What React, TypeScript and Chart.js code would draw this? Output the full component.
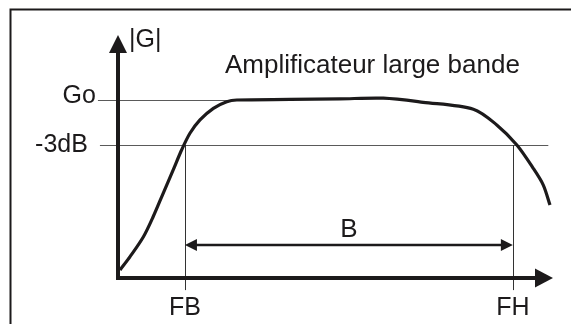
import React, { useEffect, useRef } from "react";
import { Chart, registerables } from "chart.js";

Chart.register(...registerables);

// Frequency (arbitrary units) and gain |G| (relative to Go = 1)
const curveX = [0.6, 3.6, 7.6, 10.5, 13.5, 16.5, 19.0, 21.5, 24.5, 28.5, 32.5, 35.5, 51.4, 66.3, 79.3, 91.2, 106.2, 113.2, 119.2, 124.1, 127.1, 129.1];
const curveY = [0.045, 0.12, 0.232, 0.344, 0.476, 0.607, 0.719, 0.813, 0.888, 0.953, 0.99, 1.0, 1.003, 1.006, 1.01, 0.987, 0.948, 0.86, 0.747, 0.616, 0.522, 0.41];

const X_MAX = 130;
const Y_MAX = 1.365;
const GO = 1;
const LEVEL_3DB = 0.747;
const FB = 20;
const FH = 118;
const BAND_Y = 0.185;
const GO_LINE = [-6, 35.5];
const DB_LINE = [-5.4, 128.6];
const V_LINE_BOTTOM = -0.068;

const TITLE = "Amplificateur large bande";
const Y_LABEL = "|G|";
const GO_LABEL = "Go";
const DB_LABEL = "-3dB";
const FB_LABEL = "FB";
const FH_LABEL = "FH";
const B_LABEL = "B";

const FONT = "Liberation Sans, Arial, sans-serif";
const INK = "#1c1a1b";
const GUIDE = "#5a5a5a";

const drawPlugin = {
  id: "diagram",
  beforeDatasetsDraw(chart: any) {
    const ctx = chart.ctx;
    const xs = chart.scales.x;
    const ys = chart.scales.y;
    const px = (v: number) => xs.getPixelForValue(v);
    const py = (v: number) => ys.getPixelForValue(v);
    ctx.save();
    // outer frame
    ctx.strokeStyle = INK;
    ctx.lineWidth = 2;
    ctx.beginPath();
    ctx.moveTo(10.5, 600);
    ctx.lineTo(10.5, 9.5);
    ctx.lineTo(800, 9.5);
    ctx.stroke();

    // guide lines
    ctx.strokeStyle = GUIDE;
    ctx.lineWidth = 1;
    ctx.beginPath();
    ctx.moveTo(px(GO_LINE[0]), Math.round(py(GO)) + 0.5);
    ctx.lineTo(px(GO_LINE[1]), Math.round(py(GO)) + 0.5);
    ctx.moveTo(px(DB_LINE[0]), Math.round(py(LEVEL_3DB)) + 0.5);
    ctx.lineTo(px(DB_LINE[1]), Math.round(py(LEVEL_3DB)) + 0.5);
    ctx.stroke();
    ctx.strokeStyle = "#333";
    ctx.beginPath();
    for (const f of [FB, FH]) {
      const x = Math.round(px(f)) + 0.5;
      ctx.moveTo(x, py(LEVEL_3DB));
      ctx.lineTo(x, py(V_LINE_BOTTOM));
    }
    ctx.stroke();

    // band double arrow
    const by = py(BAND_Y);
    const x1 = px(FB);
    const x2 = px(FH);
    ctx.strokeStyle = INK;
    ctx.fillStyle = INK;
    ctx.lineWidth = 2.5;
    ctx.beginPath();
    ctx.moveTo(x1 + 8, by);
    ctx.lineTo(x2 - 8, by);
    ctx.stroke();
    ctx.beginPath();
    ctx.moveTo(x1, by);
    ctx.lineTo(x1 + 12, by - 6);
    ctx.lineTo(x1 + 12, by + 6);
    ctx.closePath();
    ctx.fill();
    ctx.beginPath();
    ctx.moveTo(x2, by);
    ctx.lineTo(x2 - 12, by - 6);
    ctx.lineTo(x2 - 12, by + 6);
    ctx.closePath();
    ctx.fill();
    ctx.restore();
  },
  afterDatasetsDraw(chart: any) {
    const ctx = chart.ctx;
    const xs = chart.scales.x;
    const ys = chart.scales.y;
    const px = (v: number) => xs.getPixelForValue(v);
    const py = (v: number) => ys.getPixelForValue(v);
    const ox = px(0);
    const oy = py(0);
    const xEnd = px(X_MAX);
    const yEnd = py(Y_MAX);
    ctx.save();
    ctx.strokeStyle = INK;
    ctx.fillStyle = INK;
    ctx.lineWidth = 4;
    ctx.lineCap = "butt";
    // axes
    ctx.beginPath();
    ctx.moveTo(ox, oy + 2);
    ctx.lineTo(ox, yEnd + 16);
    ctx.moveTo(ox - 2, oy);
    ctx.lineTo(xEnd - 16, oy);
    ctx.stroke();
    // arrowheads
    ctx.beginPath();
    ctx.moveTo(ox, yEnd);
    ctx.lineTo(ox - 9, yEnd + 18);
    ctx.lineTo(ox + 9, yEnd + 18);
    ctx.closePath();
    ctx.fill();
    ctx.beginPath();
    ctx.moveTo(xEnd, oy);
    ctx.lineTo(xEnd - 18, oy - 9.5);
    ctx.lineTo(xEnd - 18, oy + 9.5);
    ctx.closePath();
    ctx.fill();

    // texts
    ctx.fillStyle = INK;
    ctx.textBaseline = "alphabetic";
    ctx.font = `25px ${FONT}`;
    ctx.textAlign = "left";
    ctx.fillText(Y_LABEL, ox + 11, yEnd + 12);
    ctx.textAlign = "right";
    ctx.fillText(GO_LABEL, px(GO_LINE[0]) - 2, py(GO) + 3);
    ctx.fillText(DB_LABEL, px(DB_LINE[0]) - 12, py(LEVEL_3DB) + 7);
    ctx.textAlign = "center";
    ctx.fillText(FB_LABEL, px(FB), oy + 37);
    ctx.fillText(FH_LABEL, px(FH), oy + 37);
    ctx.font = `26px ${FONT}`;
    ctx.fillText(B_LABEL, (px(FB) + px(FH)) / 2 + 0, py(BAND_Y) - 8);
    ctx.textAlign = "left";
    ctx.fillText(TITLE, ox + 107, yEnd + 38);
    ctx.restore();
  },
};

export default function App() {
  const ref = useRef<HTMLCanvasElement>(null);
  useEffect(() => {
    document.body.style.margin = "0";
    if (!ref.current) return;
    const chart = new Chart(ref.current, {
      type: "scatter",
      data: {
        datasets: [
          {
            data: curveX.map((x, i) => ({ x, y: curveY[i] })),
            showLine: true,
            borderColor: INK,
            borderWidth: 3.2,
            pointRadius: 0,
            tension: 0.3,
            clip: false,
          } as any,
        ],
      },
      options: {
        responsive: false,
        animation: false,
        devicePixelRatio: 1,
        layout: { padding: { left: 118, right: 18, top: 35, bottom: 46 } },
        plugins: { legend: { display: false }, tooltip: { enabled: false }, title: { display: false } },
        scales: {
          x: { type: "linear", min: 0, max: X_MAX, display: false },
          y: { type: "linear", min: 0, max: Y_MAX, display: false },
        },
      },
      plugins: [drawPlugin],
    });
    return () => chart.destroy();
  }, []);
  return (
    <div style={{ width: 571, height: 324, background: "#fff" }}>
      <canvas ref={ref} width={571} height={324} style={{ display: "block" }} />
    </div>
  );
}
